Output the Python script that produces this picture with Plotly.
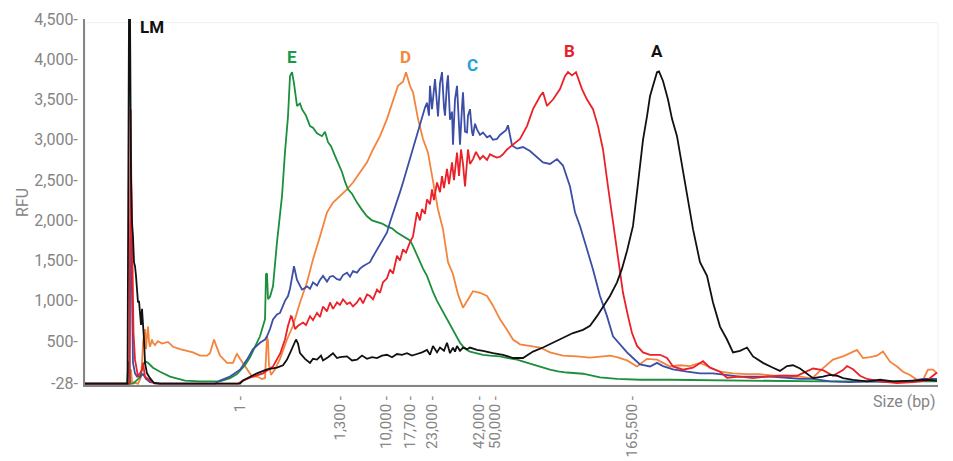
import plotly.graph_objects as go

# Migration position (arbitrary units along the size axis) and RFU values
black_pos = [85, 126, 127.5, 128, 129, 130, 130.5, 131, 132, 133, 134, 135, 136, 137, 138, 139, 140, 141, 142, 143, 144, 145, 147, 150, 154, 160,
             240, 243, 250, 257, 267, 277, 283, 287, 291, 293, 296, 298, 300, 305, 310, 313, 317, 321, 323, 328, 333, 337, 340, 347, 352, 357,
             362, 367, 372, 377, 382, 387, 392, 397, 402, 407, 412, 417, 422, 427, 430, 433, 437, 440, 444, 447, 450, 453, 455, 457, 460, 463,
             467, 470, 477, 483, 493, 503, 513, 523, 533, 543, 553, 563, 573, 583, 590, 597, 603, 610, 617, 622, 627, 633, 637, 640, 643, 647,
             650, 653, 657, 659, 663, 668, 672, 677, 682, 687, 693, 700, 707, 713, 720, 727, 733, 740, 747, 753, 763, 773, 780, 787, 793, 800,
             807, 813, 823, 830, 837, 843, 853, 867, 880, 893, 913, 927, 937]
black_rfu = [-28, -28, -28, 1500, 4600, 4600, 2600, 2550, 1975, 1800, 1480, 1430, 1310, 1140, 980, 1000, 890, 700, 900, 600, 520, 230, 100, 40, -20, -28,
             -28, 10, 60, 100, 150, 170, 200, 270, 380, 440, 520, 470, 350, 280, 230, 280, 270, 320, 260, 300, 350, 290, 300, 310, 260, 270,
             320, 280, 300, 290, 320, 330, 300, 340, 330, 350, 320, 340, 360, 390, 330, 440, 360, 420, 380, 480, 350, 420, 370, 440, 380, 420,
             400, 420, 390, 380, 350, 330, 290, 290, 370, 420, 480, 550, 600, 640, 690, 810, 930, 1060, 1230, 1400, 1620, 1930, 2350, 2700, 3000, 3290,
             3540, 3670, 3840, 3850, 3730, 3500, 3260, 3045, 2670, 2350, 1890, 1480, 1310, 980, 680, 520, 360, 380, 420, 310, 230, 170, 130, 190, 200, 160,
             100, 40, 60, 80, 70, 40, 20, 0, 20, 0, 10, 20, 10]

red_pos = [85, 128, 129.5, 130, 130.7, 131.3, 132, 133, 133.5, 135, 138, 140, 142, 143, 145, 150, 155, 238, 243, 253, 263, 273, 280, 285, 288,
           291, 292, 295, 298, 303, 306, 310, 313, 317, 320, 323, 327, 330, 333, 337, 340, 343, 347, 350, 353, 357, 360, 363, 367, 370, 373,
           377, 380, 383, 387, 390, 393, 397, 400, 403, 406, 410, 413, 415, 417, 420, 422, 425, 427, 430, 432, 434, 437, 440, 442, 444, 447,
           449, 452, 454, 457, 459, 461, 463, 465, 468, 470, 473, 476, 480, 483, 487, 490, 493, 497, 500, 503, 507, 513, 520, 527, 533, 540,
           543, 547, 553, 560, 565, 568, 572, 576, 582, 587, 593, 598, 603, 608, 613, 618, 620, 623, 628, 632, 637, 643, 650, 660, 667, 673,
           683, 693, 703, 710, 720, 727, 740, 753, 767, 780, 797, 805, 813, 823, 833, 843, 847, 853, 860, 867, 880, 897, 913, 927, 933, 937]
red_rfu = [-28, -28, -28, 1500, 3380, 2500, 1800, 1500, 600, 270, 60, 100, 145, 230, 60, 10, -28, -28, 10, 60, 100, 185, 340, 520, 690,
           810, 800, 650, 690, 730, 700, 810, 760, 850, 800, 930, 870, 980, 900, 980, 950, 1020, 960, 980, 930, 980, 1040, 970, 1080, 1060, 1020,
           1140, 1100, 1230, 1280, 1390, 1340, 1560, 1500, 1640, 1600, 1730, 1800, 1950, 2100, 2000, 2140, 2080, 2260, 2200, 2385, 2250, 2470, 2350, 2550, 2400, 2640,
           2450, 2720, 2500, 2840, 2550, 2880, 2700, 2420, 2880, 2700, 2760, 2850, 2760, 2800, 2750, 2820, 2800, 2780, 2790, 2820, 2880, 2940, 3010, 3170, 3380, 3540,
           3590, 3420, 3500, 3630, 3790, 3840, 3800, 3840, 3630, 3500, 3380, 3170, 2880, 2420, 1975, 1515, 1350, 1100, 810, 600, 440, 360, 330, 330, 290, 185,
           145, 170, 250, 170, 120, 45, 60, 40, 60, 70, 70, 120, 160, 140, 70, 140, 190, 150, 70, 30, 0, -20, -10, 10, 70, 110]

blue_pos = [85, 128, 129.5, 130, 130.7, 131.5, 132, 133, 135, 137, 140, 143, 146, 150, 160, 215, 220, 230, 240, 247, 253, 260, 265, 267, 270,
            273, 277, 280, 285, 288, 290, 292, 294, 297, 300, 302, 305, 307, 310, 313, 317, 320, 323, 327, 330, 333, 337, 340, 343, 347, 350,
            353, 357, 360, 363, 367, 370, 373, 377, 380, 383, 387, 390, 393, 397, 400, 403, 406, 410, 413, 417, 420, 422, 425, 427, 429, 430,
            432, 435, 437, 438, 440, 442, 444, 445, 447, 448, 450, 452, 453, 455, 457, 459, 460, 462, 463, 465, 467, 468, 470, 472, 473, 475,
            477, 480, 483, 487, 490, 493, 497, 500, 503, 506, 508, 512, 517, 523, 530, 537, 543, 550, 557, 563, 570, 575, 580, 587, 593, 600,
            607, 613, 620, 627, 633, 640, 650, 657, 663, 673, 687, 700, 713, 727, 740, 753, 770, 787, 800, 813, 830, 850, 870, 890, 910, 923, 937]
blue_rfu = [-28, -28, -28, 1000, 1975, 1500, 1020, 230, 100, 60, 60, 90, 30, -10, -28, -28, 10, 60, 145, 270, 400, 480, 520, 560, 650,
            770, 830, 850, 1000, 1060, 1150, 1310, 1430, 1260, 1180, 1140, 1160, 1180, 1150, 1230, 1190, 1260, 1310, 1240, 1300, 1310, 1270, 1260, 1320, 1350, 1300,
            1370, 1350, 1400, 1430, 1460, 1480, 1550, 1640, 1700, 1765, 1850, 1975, 2080, 2220, 2350, 2470, 2600, 2760, 2900, 3045, 3200, 3290, 3400, 3460, 3300, 3670,
            3380, 3755, 3350, 3290, 3700, 3840, 3400, 3300, 3700, 3800, 3250, 3350, 2940, 3500, 3670, 3100, 2940, 3400, 3590, 3100, 3090, 3300, 3380, 3100, 3050, 3200,
            3130, 3060, 3090, 3030, 3050, 3000, 3010, 3060, 3090, 3120, 3180, 2930, 2890, 2910, 2860, 2780, 2720, 2700, 2760, 2680, 2420, 2100, 1930, 1640, 1390, 1060,
            810, 560, 460, 360, 290, 210, 185, 230, 190, 150, 120, 100, 100, 80, 60, 60, 60, 45, 30, 30, 0, -10, 0, -10, 0, 30, 30]

orange_pos = [85, 128, 130, 131, 132, 138, 141, 142, 143, 145, 146, 147, 148, 149, 150, 152, 153, 155, 158, 162, 165, 168, 173, 180, 187,
              193, 200, 207, 210, 212, 214, 216, 218, 220, 227, 233, 236, 237, 240, 247, 252, 257, 262, 265, 266, 267, 268, 269, 271, 275, 280,
              287, 293, 300, 307, 313, 320, 327, 333, 340, 347, 353, 360, 367, 373, 380, 387, 393, 398, 403, 406, 410, 413, 418, 423, 428, 433,
              438, 443, 448, 453, 458, 463, 468, 473, 480, 487, 493, 500, 507, 513, 520, 530, 540, 550, 563, 577, 590, 603, 610, 617, 627, 637,
              647, 657, 670, 680, 690, 700, 710, 720, 733, 747, 760, 773, 787, 800, 810, 813, 823, 833, 843, 850, 857, 863, 870, 877, 883, 890,
              897, 903, 910, 917, 923, 928, 933, 937]
orange_rfu = [-28, -28, -28, 150, -10, -28, 50, 230, 480, 650, 400, 560, 680, 500, 430, 520, 480, 450, 500, 470, 480, 490, 430, 400, 380,
              360, 320, 320, 350, 450, 520, 450, 380, 320, 230, 230, 320, 340, 280, 150, 60, 60, 30, 40, 300, 560, 500, 200, 80, 150, 280,
              520, 690, 980, 1230, 1515, 1800, 2100, 2220, 2300, 2385, 2470, 2600, 2720, 2880, 3045, 3260, 3500, 3670, 3720, 3840, 3670, 3590, 3260, 3010, 2840, 2470,
              2135, 1890, 1480, 1330, 1080, 915, 1020, 1120, 1100, 1060, 940, 770, 640, 520, 460, 440, 420, 360, 320, 310, 295, 310, 320, 300, 260, 185,
              280, 270, 185, 200, 190, 230, 170, 120, 100, 90, 90, 70, 70, 60, 40, 50, 165, 270, 310, 350, 390, 290, 300, 320, 370, 245,
              185, 120, 80, 20, 20, 145, 145, 100]

green_pos = [85, 127, 128, 129, 130, 133, 140, 143, 145, 148, 153, 160, 170, 177, 185, 200, 220, 230, 237, 245, 250, 255, 260, 265, 266,
             267, 268, 270, 273, 277, 282, 285, 288, 290, 292, 294, 297, 300, 302, 306, 310, 313, 317, 322, 325, 328, 331, 335, 338, 342, 345,
             348, 352, 357, 362, 367, 372, 377, 382, 387, 392, 397, 402, 407, 410, 413, 417, 420, 423, 427, 430, 433, 437, 440, 443, 447, 450,
             453, 457, 460, 463, 467, 470, 477, 483, 490, 500, 508, 517, 525, 533, 542, 550, 558, 567, 583, 600, 617, 640, 670, 700, 740, 780,
             820, 860, 900, 937]
green_rfu = [-28, -28, 150, 250, -28, -28, 50, 200, 250, 230, 170, 120, 60, 40, 10, 0, 0, 40, 90, 200, 300, 430, 560, 770, 1330,
             1340, 1020, 1050, 1180, 1730, 2300, 2850, 3290, 3790, 3840, 3700, 3420, 3450, 3380, 3300, 3170, 3150, 3080, 3045, 3100, 2970, 2920, 2800, 2720, 2600, 2480,
             2385, 2330, 2220, 2130, 2050, 2000, 1975, 1960, 1925, 1900, 1850, 1810, 1765, 1750, 1680, 1560, 1480, 1400, 1310, 1200, 1110, 1000, 930, 870, 770, 700,
             640, 540, 480, 435, 390, 370, 345, 330, 320, 310, 290, 270, 240, 210, 175, 145, 125, 110, 95, 50, 30, 20, 20, 15, 10, 10,
             0, 0, 0, 0]

size_tick_pos = [240, 340, 386, 410, 432, 479, 495, 632]
size_tick_text = ["1", "1,300", "10,000", "17,700", "23,000", "42,000", "50,000", "165,500"]
rfu_tick_vals = [-28, 500, 1000, 1500, 2000, 2500, 3000, 3500, 4000, 4500]
rfu_tick_text = ["-28", "500", "1,000", "1,500", "2,000", "2,500", "3,000", "3,500", "4,000", "4,500"]

peak_labels = ["LM", "E", "D", "C", "B", "A"]
peak_label_pos = [152, 292, 405, 472, 569, 657]
peak_label_rfu = [4400, 4030, 4030, 3930, 4100, 4100]
peak_label_colors = ["#111111", "#1a9a48", "#f08a3c", "#1e9fe0", "#e8222a", "#111111"]

GRAY = "#858585"
FONT = "Roboto"

fig = go.Figure()
series = [
    ("D", orange_pos, orange_rfu, "#f4843c"),
    ("E", green_pos, green_rfu, "#1b8f3c"),
    ("C", blue_pos, blue_rfu, "#3c4ea6"),
    ("B", red_pos, red_rfu, "#ea2228"),
    ("A", black_pos, black_rfu, "#111111"),
]
for name, xs, ys, col in series:
    fig.add_trace(go.Scatter(x=xs, y=ys, mode="lines", name=name,
                             line=dict(color=col, width=1.8), showlegend=False))

for lab, px, ry, col in zip(peak_labels, peak_label_pos, peak_label_rfu, peak_label_colors):
    fig.add_annotation(x=px, y=ry, xref="x", yref="y", text="<b>" + lab + "</b>",
                       showarrow=False, font=dict(family=FONT, size=17, color=col))

fig.add_annotation(x=1.0, y=-0.046, xref="paper", yref="paper", text="Size (bp)", showarrow=False,
                   xanchor="right", yanchor="middle", font=dict(family=FONT, size=16, color=GRAY))
fig.add_annotation(x=-0.074, y=0.5, xref="paper", yref="paper", text="RFU", showarrow=False,
                   textangle=-90, xanchor="center", yanchor="middle",
                   font=dict(family=FONT, size=16, color=GRAY))

fig.add_shape(type="rect", xref="paper", yref="paper", x0=0, x1=1, y0=0, y1=0.99,
              line=dict(color="#f0f0f0", width=1), layer="below")

# tick marks drawn as dashes at the end of each label, like the original
fig.update_xaxes(range=[85, 938], tickvals=size_tick_pos, ticktext=[t + " -" for t in size_tick_text],
                 tickangle=-90, ticks="", ticklabelstandoff=3,
                 showline=True, linecolor=GRAY, linewidth=2, showgrid=False, zeroline=False,
                 automargin=False, tickfont=dict(family=FONT, size=15, color=GRAY))
fig.update_yaxes(range=[-45, 4500], tickvals=rfu_tick_vals, ticktext=[t + "-" for t in rfu_tick_text],
                 ticks="", ticklabelstandoff=2,
                 showline=True, linecolor=GRAY, linewidth=2, showgrid=False, zeroline=False,
                 automargin=False, tickfont=dict(family=FONT, size=16, color=GRAY))

# the page body adds an 8 px offset, so the figure is sized to compensate
fig.update_layout(width=945, height=453, margin=dict(l=77, r=15, t=11, b=76),
                  paper_bgcolor="white", plot_bgcolor="white", font=dict(family=FONT))

fig.write_html("out.html")
